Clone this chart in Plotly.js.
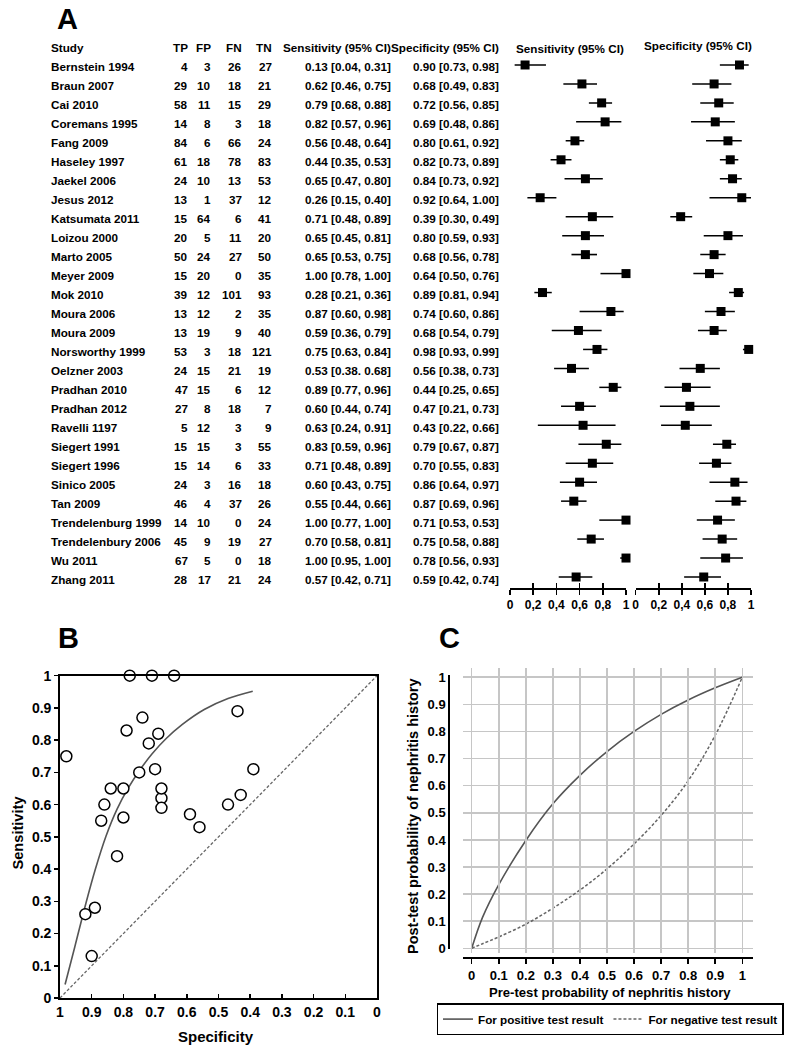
<!DOCTYPE html>
<html>
<head>
<meta charset="utf-8">
<script src="https://cdn.plot.ly/plotly-3.0.1.min.js"></script>
<style>
html,body{margin:0;padding:0;background:#fff;}
#chart{width:786px;height:1049px;}
</style>
</head>
<body>
<div id="chart"></div>
<script>
// ---------- Panel A data ----------
const studies = ["Bernstein 1994","Braun 2007","Cai 2010","Coremans 1995","Fang 2009","Haseley 1997","Jaekel 2006","Jesus 2012","Katsumata 2011","Loizou 2000","Marto 2005","Meyer 2009","Mok 2010","Moura 2006","Moura 2009","Norsworthy 1999","Oelzner 2003","Pradhan 2010","Pradhan 2012","Ravelli 1197","Siegert 1991","Siegert 1996","Sinico 2005","Tan 2009","Trendelenburg 1999","Trendelenbury 2006","Wu 2011","Zhang 2011"];
const tp = [4,29,58,14,84,61,24,13,15,20,50,15,39,13,13,53,24,47,27,5,15,15,24,46,14,45,67,28];
const fp = [3,10,11,8,6,18,10,1,64,5,24,20,12,12,19,3,15,15,8,12,15,14,3,4,10,9,5,17];
const fn = [26,18,15,3,66,78,13,37,6,11,27,0,101,2,9,18,21,6,18,3,3,6,16,37,0,19,0,21];
const tn = [27,21,29,18,24,83,53,12,41,20,50,35,93,35,40,121,19,12,7,9,55,33,18,26,24,27,18,24];
const sensText = ["0.13 [0.04, 0.31]","0.62 [0.46, 0.75]","0.79 [0.68, 0.88]","0.82 [0.57, 0.96]","0.56 [0.48, 0.64]","0.44 [0.35, 0.53]","0.65 [0.47, 0.80]","0.26 [0.15, 0.40]","0.71 [0.48, 0.89]","0.65 [0.45, 0.81]","0.65 [0.53, 0.75]","1.00 [0.78, 1.00]","0.28 [0.21, 0.36]","0.87 [0.60, 0.98]","0.59 [0.36, 0.79]","0.75 [0.63, 0.84]","0.53 [0.38. 0.68]","0.89 [0.77, 0.96]","0.60 [0.44, 0.74]","0.63 [0.24, 0.91]","0.83 [0.59, 0.96]","0.71 [0.48, 0.89]","0.60 [0.43, 0.75]","0.55 [0.44, 0.66]","1.00 [0.77, 1.00]","0.70 [0.58, 0.81]","1.00 [0.95, 1.00]","0.57 [0.42, 0.71]"];
const specText = ["0.90 [0.73, 0.98]","0.68 [0.49, 0.83]","0.72 [0.56, 0.85]","0.69 [0.48, 0.86]","0.80 [0.61, 0.92]","0.82 [0.73, 0.89]","0.84 [0.73, 0.92]","0.92 [0.64, 1.00]","0.39 [0.30, 0.49]","0.80 [0.59, 0.93]","0.68 [0.56, 0.78]","0.64 [0.50, 0.76]","0.89 [0.81, 0.94]","0.74 [0.60, 0.86]","0.68 [0.54, 0.79]","0.98 [0.93, 0.99]","0.56 [0.38, 0.73]","0.44 [0.25, 0.65]","0.47 [0.21, 0.73]","0.43 [0.22, 0.66]","0.79 [0.67, 0.87]","0.70 [0.55, 0.83]","0.86 [0.64, 0.97]","0.87 [0.69, 0.96]","0.71 [0.53, 0.53]","0.75 [0.58, 0.88]","0.78 [0.56, 0.93]","0.59 [0.42, 0.74]"];
const sens   = [0.13,0.62,0.79,0.82,0.56,0.44,0.65,0.26,0.71,0.65,0.65,1.00,0.28,0.87,0.59,0.75,0.53,0.89,0.60,0.63,0.83,0.71,0.60,0.55,1.00,0.70,1.00,0.57];
const sensLo = [0.04,0.46,0.68,0.57,0.48,0.35,0.47,0.15,0.48,0.45,0.53,0.78,0.21,0.60,0.36,0.63,0.38,0.77,0.44,0.24,0.59,0.48,0.43,0.44,0.77,0.58,0.95,0.42];
const sensHi = [0.31,0.75,0.88,0.96,0.64,0.53,0.80,0.40,0.89,0.81,0.75,1.00,0.36,0.98,0.79,0.84,0.68,0.96,0.74,0.91,0.96,0.89,0.75,0.66,1.00,0.81,1.00,0.71];
const spec   = [0.90,0.68,0.72,0.69,0.80,0.82,0.84,0.92,0.39,0.80,0.68,0.64,0.89,0.74,0.68,0.98,0.56,0.44,0.47,0.43,0.79,0.70,0.86,0.87,0.71,0.75,0.78,0.59];
const specLo = [0.73,0.49,0.56,0.48,0.61,0.73,0.73,0.64,0.30,0.59,0.56,0.50,0.81,0.60,0.54,0.93,0.38,0.25,0.21,0.22,0.67,0.55,0.64,0.69,0.53,0.58,0.56,0.42];
const specHi = [0.98,0.83,0.85,0.86,0.92,0.89,0.92,1.00,0.49,0.93,0.78,0.76,0.94,0.86,0.79,0.99,0.73,0.65,0.73,0.66,0.87,0.83,0.97,0.96,0.86,0.88,0.93,0.74];
const forestTicks = [0,0.2,0.4,0.6,0.8,1];
const forestTickText = ["0","0,2","0,4","0,6","0,8","1"];

// ---------- Panel B data ----------
const srocSpec = [0.984,0.953,0.918,0.889,0.855,0.82,0.785,0.752,0.71,0.665,0.615,0.545,0.47,0.392];
const srocSens = [0.042,0.160,0.295,0.398,0.502,0.586,0.651,0.702,0.757,0.805,0.848,0.895,0.929,0.952];
const diagSpec = [1,0];
const diagSens = [0,1];
const tenthTicks = [0,0.1,0.2,0.3,0.4,0.5,0.6,0.7,0.8,0.9,1];
const tenthText = ["0","0.1","0.2","0.3","0.4","0.5","0.6","0.7","0.8","0.9","1"];

// ---------- Panel C data ----------
const preTest = [0,0.04,0.1,0.2,0.3,0.4,0.5,0.6,0.7,0.8,0.9,1];
const postPos = [0,0.114,0.235,0.398,0.533,0.638,0.726,0.80,0.863,0.916,0.961,1];
const postNeg = [0,0.017,0.042,0.089,0.148,0.215,0.293,0.385,0.49,0.618,0.786,1];

// ---------- helpers ----------
const W = 786, H = 1049;
const px = v => v / W;
const py = v => 1 - v / H;
const FONT = "Liberation Sans, Arial, Helvetica, sans-serif";
const bold = (size) => ({family: FONT, size: size, color: "#000", weight: "bold"});
const rows = studies.map((_, i) => i);

const traces = [];
traces.push({
  type: "scatter", mode: "markers", x: sens, y: rows, xaxis: "x2", yaxis: "y",
  marker: {symbol: "square", size: 9, color: "#000"},
  error_x: {type: "data", symmetric: false,
    array: sens.map((v, i) => sensHi[i] - v), arrayminus: sens.map((v, i) => v - sensLo[i]),
    thickness: 1.5, width: 0, color: "#000"},
  cliponaxis: false, showlegend: false, hoverinfo: "skip"
});
traces.push({
  type: "scatter", mode: "markers", x: spec, y: rows, xaxis: "x3", yaxis: "y",
  marker: {symbol: "square", size: 9, color: "#000"},
  error_x: {type: "data", symmetric: false,
    array: spec.map((v, i) => specHi[i] - v), arrayminus: spec.map((v, i) => v - specLo[i]),
    thickness: 1.5, width: 0, color: "#000"},
  cliponaxis: false, showlegend: false, hoverinfo: "skip"
});
traces.push({type: "scatter", x: [], y: [], xaxis: "x4", yaxis: "y", showlegend: false});
traces.push({type: "scatter", x: [], y: [], xaxis: "x5", yaxis: "y", showlegend: false});

traces.push({
  type: "scatter", mode: "lines", x: diagSpec, y: diagSens, xaxis: "x6", yaxis: "y6",
  line: {color: "#666", width: 1.3, dash: "3px,2px"}, showlegend: false, hoverinfo: "skip"
});
traces.push({
  type: "scatter", mode: "lines", x: srocSpec, y: srocSens, xaxis: "x6", yaxis: "y6",
  line: {color: "#555", width: 1.6, shape: "spline"}, showlegend: false, hoverinfo: "skip"
});
traces.push({
  type: "scatter", mode: "markers", x: spec, y: sens, xaxis: "x6", yaxis: "y6",
  marker: {symbol: "circle", size: 11, color: "#fff", line: {color: "#000", width: 1.5}},
  cliponaxis: false, showlegend: false, hoverinfo: "skip"
});

traces.push({
  type: "scatter", mode: "lines", x: preTest, y: postPos, xaxis: "x7", yaxis: "y7",
  name: "For positive test result",
  line: {color: "#555", width: 1.6, shape: "spline"}, hoverinfo: "skip"
});
traces.push({
  type: "scatter", mode: "lines", x: preTest, y: postNeg, xaxis: "x7", yaxis: "y7",
  name: "For negative test result",
  line: {color: "#666", width: 1.5, dash: "3px,2px", shape: "spline"}, hoverinfo: "skip"
});
traces.push({type: "scatter", x: [], y: [], xaxis: "x7", yaxis: "y8", showlegend: false});

// ---------- annotations ----------
const annotations = [];
const columns = [
  {vals: studies, x: 49.3, anchor: "left", head: "Study"},
  {vals: tp, x: 190, anchor: "right", head: "TP"},
  {vals: fp, x: 213.3, anchor: "right", head: "FP"},
  {vals: fn, x: 244, anchor: "right", head: "FN"},
  {vals: tn, x: 274.3, anchor: "right", head: "TN"},
  {vals: sensText, x: 392.5, anchor: "right", head: "Sensitivity (95% CI)"},
  {vals: specText, x: 500.5, anchor: "right", head: "Specificity (95% CI)"}
];
columns.forEach(col => {
  annotations.push({xref: "paper", yref: "paper", x: px(col.x), y: py(47.5), xanchor: col.anchor, yanchor: "middle",
    text: col.head, showarrow: false, font: bold(11.7)});
  col.vals.forEach((v, i) => {
    annotations.push({xref: "paper", yref: "y", x: px(col.x), y: rows[i], yshift: -2, xanchor: col.anchor, yanchor: "middle",
      text: String(v), showarrow: false, font: bold(11.7)});
  });
});
annotations.push({xref: "paper", yref: "paper", x: px(514), y: py(48), xanchor: "left", yanchor: "middle",
  text: "Sensitivity (95% CI)", showarrow: false, font: bold(11.7)});
annotations.push({xref: "paper", yref: "paper", x: px(642), y: py(46), xanchor: "left", yanchor: "middle",
  text: "Specificity (95% CI)", showarrow: false, font: bold(11.7)});
[["A", 55, 19], ["B", 56, 638], ["C", 437, 638]].forEach(p => {
  annotations.push({xref: "paper", yref: "paper", x: px(p[1]), y: py(p[2]), xanchor: "left", yanchor: "middle",
    text: p[0], showarrow: false, font: bold(29)});
});
annotations.push({xref: "paper", yref: "paper", x: px(17.5), y: py(833), xanchor: "center", yanchor: "middle",
  text: "Sensitivity", textangle: -90, showarrow: false, font: bold(14.6)});
annotations.push({xref: "paper", yref: "paper", x: px(216), y: py(1036), xanchor: "center", yanchor: "middle",
  text: "Specificity", showarrow: false, font: bold(15)});
annotations.push({xref: "paper", yref: "paper", x: px(412.5), y: py(816.5), xanchor: "center", yanchor: "middle",
  text: "Post-test probability of nephritis history", textangle: -90, showarrow: false, font: bold(14.5)});
annotations.push({xref: "paper", yref: "paper", x: px(610), y: py(992.5), xanchor: "center", yanchor: "middle",
  text: "Pre-test probability of nephritis history", showarrow: false, font: bold(13.1)});

// ---------- layout ----------
const forestAxis = (domain) => ({
  domain: domain, range: [0, 1], anchor: "y", showgrid: false, zeroline: false,
  showline: true, linecolor: "#000", linewidth: 1.6,
  ticks: "outside", ticklen: 5, tickwidth: 1.5, tickcolor: "#000",
  tickvals: forestTicks, ticktext: forestTickText, tickfont: bold(12), fixedrange: true
});
const forestOverlay = (over, domain) => ({
  domain: domain, range: [0, 1], anchor: "y", overlaying: over, showgrid: false, zeroline: false,
  showline: false, ticks: "inside", ticklen: 5, tickwidth: 1.5, tickcolor: "#000",
  tickvals: forestTicks, showticklabels: false, fixedrange: true
});
const sensDom = [px(510), px(626)];
const specDom = [px(635.7), px(751)];

const layout = {
  width: W, height: H,
  margin: {l: 0, r: 0, t: 0, b: 0, pad: 0},
  paper_bgcolor: "#fff", plot_bgcolor: "rgba(0,0,0,0)",
  font: {family: FONT, color: "#000"},
  showlegend: true,
  yaxis: {domain: [py(588), py(55.5)], range: [27.58, -0.5], visible: false, fixedrange: true},
  xaxis2: forestAxis(sensDom),
  xaxis3: forestAxis(specDom),
  xaxis4: forestOverlay("x2", sensDom),
  xaxis5: forestOverlay("x3", specDom),
  xaxis6: {domain: [px(60), px(377)], range: [1, 0], anchor: "y6",
    showline: true, mirror: true, linecolor: "#000", linewidth: 1.8,
    showgrid: false, zeroline: false, ticks: "inside", ticklen: 4, tickwidth: 1.5, tickcolor: "#000",
    tickvals: tenthTicks, ticktext: tenthText, tickfont: bold(14)},
  yaxis6: {domain: [py(998), py(675.7)], range: [0, 1], anchor: "x6",
    showline: true, mirror: true, linecolor: "#000", linewidth: 1.8,
    showgrid: false, zeroline: false, ticks: "outside", ticklen: 4, tickwidth: 1.5, tickcolor: "#000",
    tickvals: tenthTicks, ticktext: tenthText, tickfont: bold(14)},
  xaxis7: {domain: [px(462.7), px(753)], range: [-0.0333, 1.0396], anchor: "free", position: py(958.3),
    showline: true, linecolor: "#000", linewidth: 2,
    showgrid: true, gridcolor: "#c6c6c6", gridwidth: 1.5, zeroline: false,
    ticks: "outside", ticklen: 5, tickwidth: 1.5, tickcolor: "#000",
    tickvals: tenthTicks, ticktext: tenthText, tickfont: bold(13)},
  yaxis7: {domain: [py(953), py(668)], range: [-0.0173, 1.0341], anchor: "free", position: px(449.3),
    showline: false, showgrid: true, gridcolor: "#c6c6c6", gridwidth: 1.5, zeroline: false,
    ticks: "", tickvals: tenthTicks, showticklabels: false},
  yaxis8: {domain: [py(948.9), py(675)], range: [-0.002, 1.0085], anchor: "free", position: px(449.3),
    showline: true, linecolor: "#000", linewidth: 2,
    showgrid: false, zeroline: false,
    ticks: "", tickvals: tenthTicks, ticktext: tenthText, tickfont: bold(13)},
  legend: {orientation: "h", x: px(436.7), y: py(1003.3), xanchor: "left", yanchor: "top",
    bgcolor: "#fff", bordercolor: "#000", borderwidth: 1.3, font: bold(11.7), itemwidth: 30},
  annotations: annotations
};

Plotly.newPlot("chart", traces, layout, {staticPlot: true, displayModeBar: false});
</script>
</body>
</html>
